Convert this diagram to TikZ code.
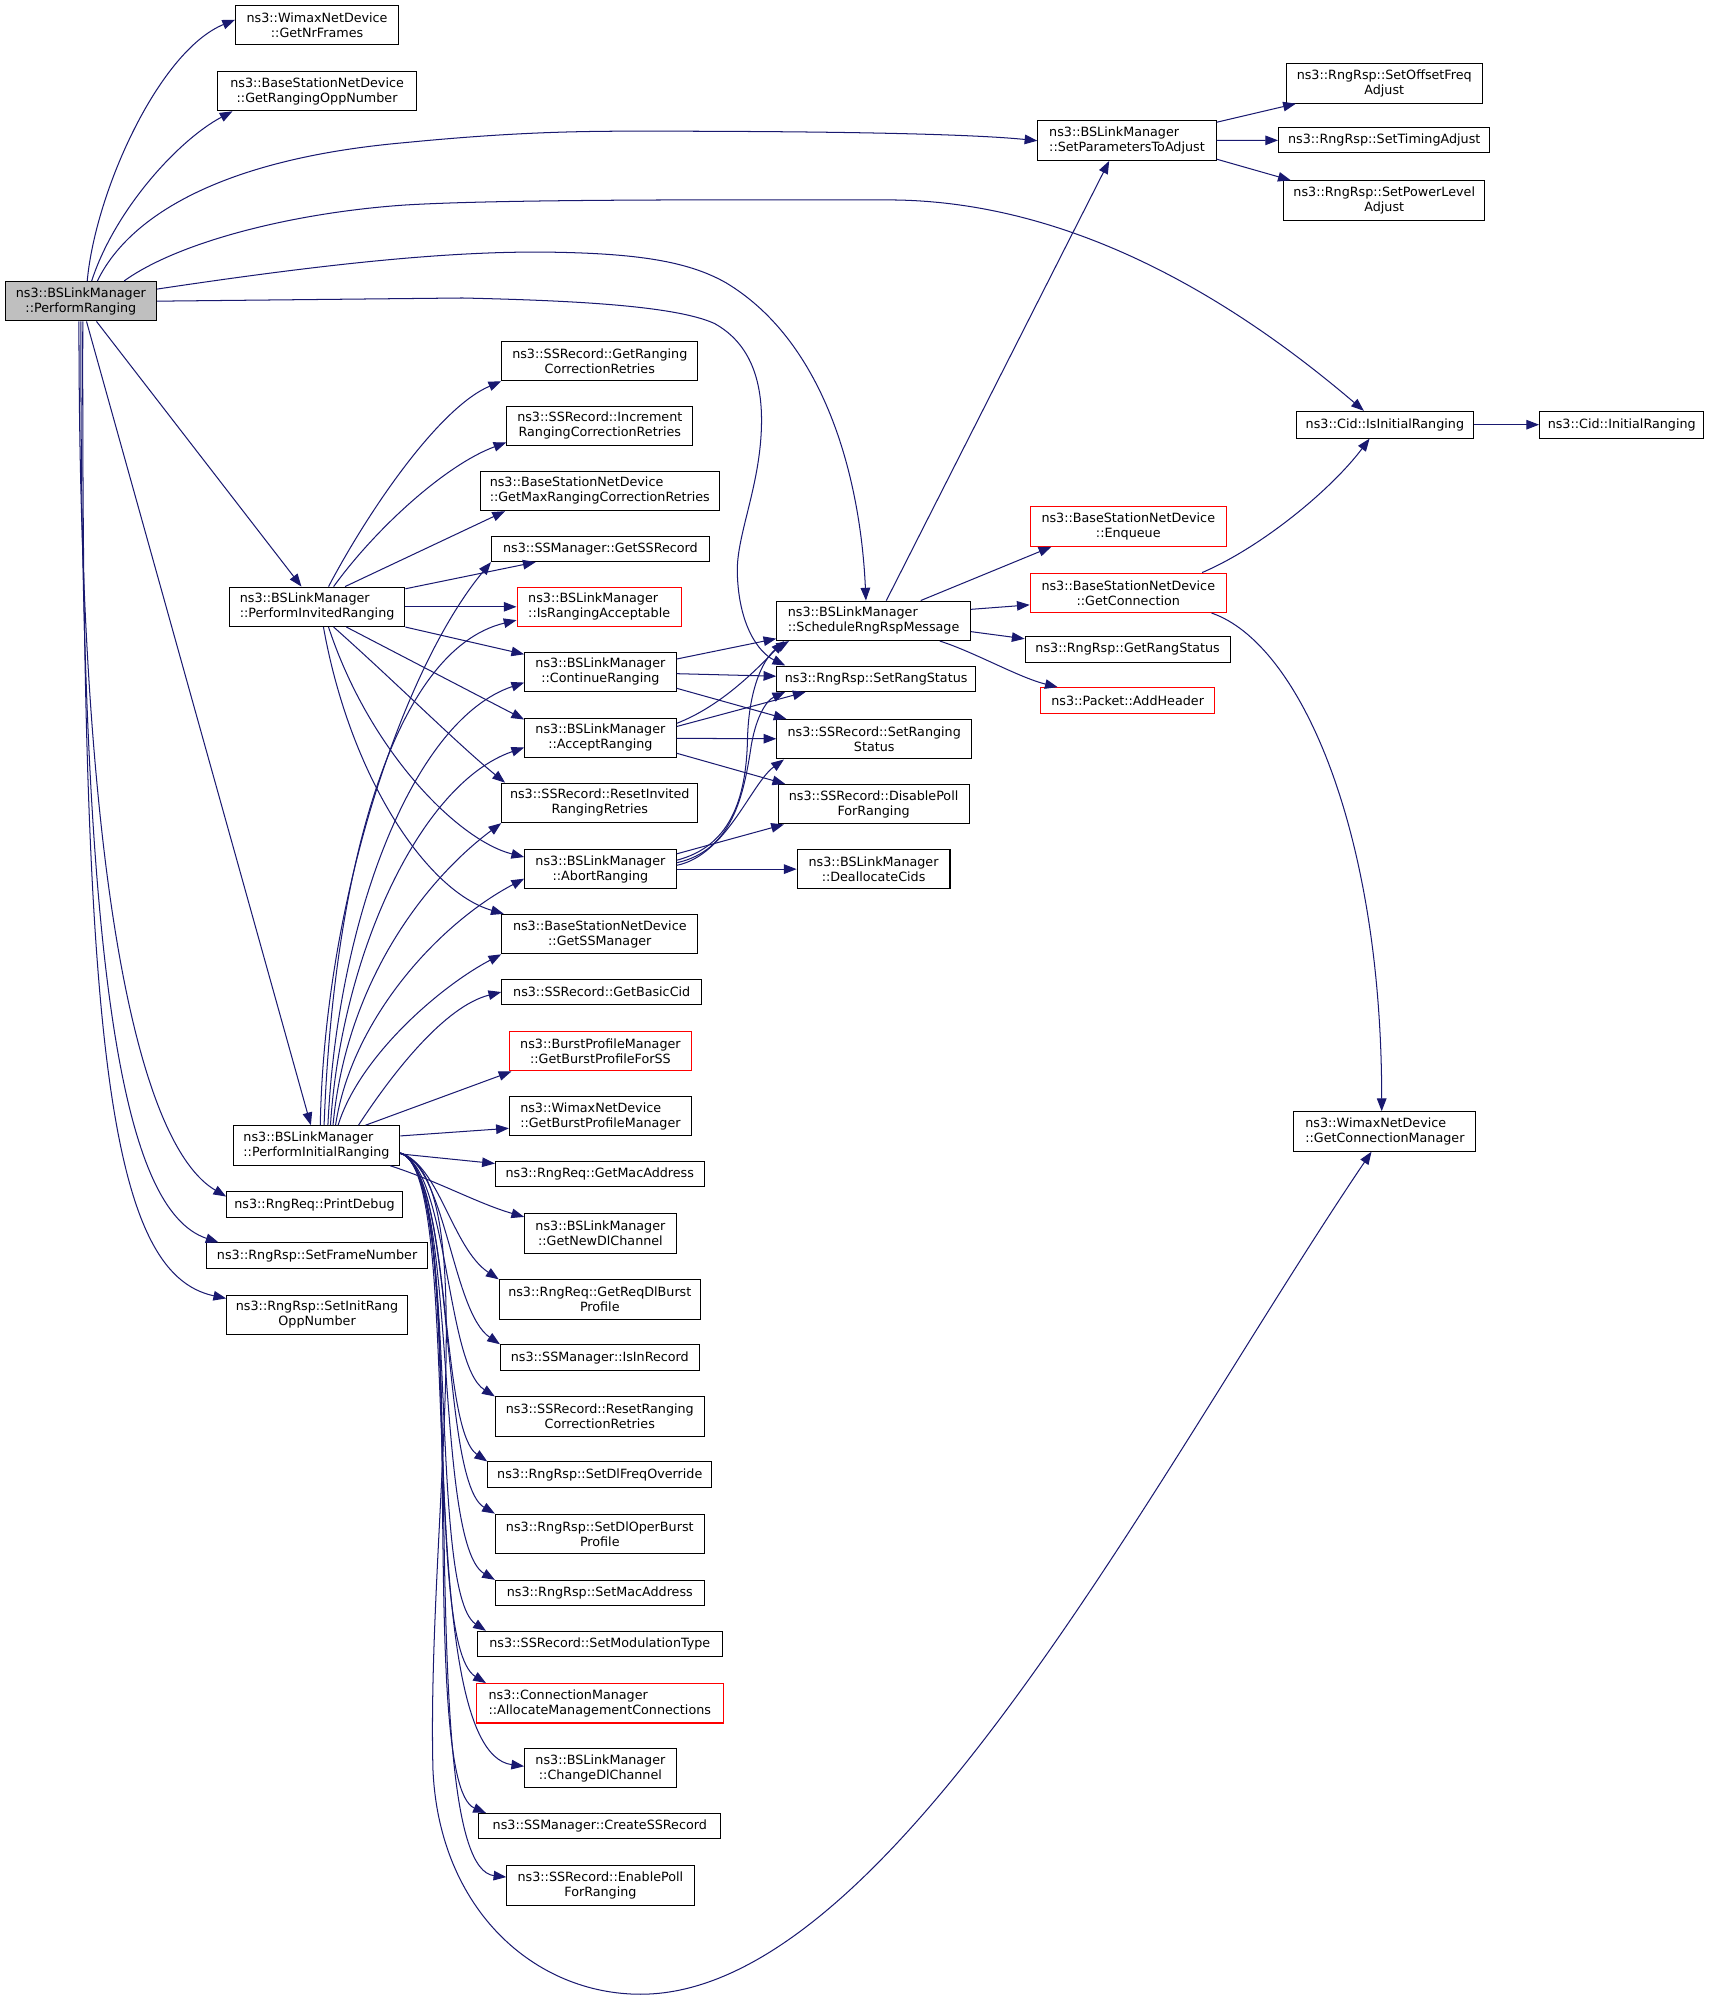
\documentclass[tikz,border=0pt]{standalone}
\usepackage{fontspec}
\setmainfont{DejaVu Sans}
\usetikzlibrary{arrows.meta}
\definecolor{edgecol}{HTML}{191970}
\definecolor{rootfill}{HTML}{BFBFBF}
\definecolor{redborder}{HTML}{FF0000}
\newsavebox\twolA
\newsavebox\twolB
\newlength\twolW
\newcommand\twol[2]{\sbox\twolA{#1}\sbox\twolB{#2}\setlength\twolW{\wd\twolA}\ifdim\wd\twolB>\twolW\setlength\twolW{\wd\twolB}\fi\vbox{\hbox to\twolW{\usebox\twolA\hfil}\hbox to\twolW{\hfil\usebox\twolB\hfil}}}
\newcommand\mybox[7]{\node[#1, minimum width={(#5-#3)*1pt}, minimum height={(#6-#4)*1pt}] (#2) at ({(#3+#5)/2},{-(#4+#6)/2}) {#7};}
\begin{document}
\begin{tikzpicture}[x=1pt,y=1pt,
  box/.style={draw=black, line width=0.8pt, fill=white, inner sep=0pt, font=\fontsize{10}{11.8}\selectfont},
  rootbox/.style={box, fill=rootfill},
  redbox/.style={box, draw=redborder},
  conn/.style={draw=edgecol, line width=0.8pt, -{Triangle[length=10pt,width=7.5pt]}}]
\fill[white] (0,0) rectangle (1342,-1567.4);
\useasboundingbox (0,0) rectangle (1342,-1567.4);
% nodes
\mybox{rootbox}{PR}{4}{221}{123}{252}{\twol{ns3::BSLinkManager}{::PerformRanging}}
\mybox{box}{GNF}{185}{4}{313}{35}{\twol{ns3::WimaxNetDevice}{::GetNrFrames}}
\mybox{box}{GROpp}{171}{56}{327}{87}{\twol{ns3::BaseStationNetDevice}{::GetRangingOppNumber}}
\mybox{box}{SPA}{815}{95}{955}{126}{\twol{ns3::BSLinkManager}{::SetParametersToAdjust}}
\mybox{box}{SOFA}{1010}{50}{1164}{81}{\twol{ns3::RngRsp::SetOffsetFreq}{Adjust}}
\mybox{box}{STA}{1004}{100}{1170}{120}{ns3::RngRsp::SetTimingAdjust}
\mybox{box}{SPLA}{1008}{142}{1166}{173}{\twol{ns3::RngRsp::SetPowerLevel}{Adjust}}
\mybox{box}{CIIR}{1018}{323}{1157}{344}{ns3::Cid::IsInitialRanging}
\mybox{box}{CIR}{1209}{323}{1338}{344}{ns3::Cid::InitialRanging}
\mybox{box}{GRCR}{394}{268}{548}{299}{\twol{ns3::SSRecord::GetRanging}{CorrectionRetries}}
\mybox{box}{IRCR}{398}{319}{544}{350}{\twol{ns3::SSRecord::Increment}{RangingCorrectionRetries}}
\mybox{box}{GMRCR}{377}{370}{565}{401}{\twol{ns3::BaseStationNetDevice}{::GetMaxRangingCorrectionRetries}}
\mybox{box}{GSSR}{386}{421}{557}{441}{ns3::SSManager::GetSSRecord}
\mybox{box}{PIR}{180}{461}{318}{492}{\twol{ns3::BSLinkManager}{::PerformInvitedRanging}}
\mybox{redbox}{IRA}{406}{461}{535}{492}{\twol{ns3::BSLinkManager}{::IsRangingAcceptable}}
\mybox{box}{SRRM}{610}{472}{762}{503}{\twol{ns3::BSLinkManager}{::ScheduleRngRspMessage}}
\mybox{redbox}{ENQ}{809}{398}{963}{429}{\twol{ns3::BaseStationNetDevice}{::Enqueue}}
\mybox{redbox}{GCON}{809}{450}{963}{481}{\twol{ns3::BaseStationNetDevice}{::GetConnection}}
\mybox{box}{GRS}{805}{500}{966}{520}{ns3::RngRsp::GetRangStatus}
\mybox{redbox}{ADDH}{817}{540}{954}{560}{ns3::Packet::AddHeader}
\mybox{box}{CR}{412}{512}{531}{543}{\twol{ns3::BSLinkManager}{::ContinueRanging}}
\mybox{box}{SRS}{610}{523}{766}{543}{ns3::RngRsp::SetRangStatus}
\mybox{box}{AR}{412}{564}{531}{595}{\twol{ns3::BSLinkManager}{::AcceptRanging}}
\mybox{box}{SSRS}{610}{565}{763}{596}{\twol{ns3::SSRecord::SetRanging}{Status}}
\mybox{box}{RIRR}{394}{615}{548}{646}{\twol{ns3::SSRecord::ResetInvited}{RangingRetries}}
\mybox{box}{DPFR}{611}{616}{761}{647}{\twol{ns3::SSRecord::DisablePoll}{ForRanging}}
\mybox{box}{ABR}{412}{667}{531}{698}{\twol{ns3::BSLinkManager}{::AbortRanging}}
\mybox{box}{DCID}{626}{667}{746}{698}{\twol{ns3::BSLinkManager}{::DeallocateCids}}
\mybox{box}{GSSM}{394}{718}{548}{749}{\twol{ns3::BaseStationNetDevice}{::GetSSManager}}
\mybox{box}{GBC}{394}{769}{551}{789}{ns3::SSRecord::GetBasicCid}
\mybox{redbox}{GBPSS}{400}{810}{543}{841}{\twol{ns3::BurstProfileManager}{::GetBurstProfileForSS}}
\mybox{box}{GBPM}{400}{861}{543}{892}{\twol{ns3::WimaxNetDevice}{::GetBurstProfileManager}}
\mybox{box}{PINR}{183}{884}{314}{915}{\twol{ns3::BSLinkManager}{::PerformInitialRanging}}
\mybox{box}{GMA}{389}{912}{553}{932}{ns3::RngReq::GetMacAddress}
\mybox{box}{GNDC}{412}{953}{531}{984}{\twol{ns3::BSLinkManager}{::GetNewDlChannel}}
\mybox{box}{GRDBP}{392}{1005}{550}{1036}{\twol{ns3::RngReq::GetReqDlBurst}{Profile}}
\mybox{box}{IIR}{393}{1056}{549}{1076}{ns3::SSManager::IsInRecord}
\mybox{box}{RRCR}{389}{1097}{553}{1128}{\twol{ns3::SSRecord::ResetRanging}{CorrectionRetries}}
\mybox{box}{SDFO}{383}{1148}{559}{1168}{ns3::RngRsp::SetDlFreqOverride}
\mybox{box}{SDOBP}{389}{1189}{553}{1220}{\twol{ns3::RngRsp::SetDlOperBurst}{Profile}}
\mybox{box}{SMA}{389}{1241}{553}{1261}{ns3::RngRsp::SetMacAddress}
\mybox{box}{SMT}{375}{1281}{567}{1301}{ns3::SSRecord::SetModulationType}
\mybox{redbox}{AMC}{374}{1322}{568}{1353}{\twol{ns3::ConnectionManager}{::AllocateManagementConnections}}
\mybox{box}{CDC}{412}{1373}{531}{1404}{\twol{ns3::BSLinkManager}{::ChangeDlChannel}}
\mybox{box}{CSSR}{376}{1424}{566}{1444}{ns3::SSManager::CreateSSRecord}
\mybox{box}{EPFR}{398}{1465}{545}{1496}{\twol{ns3::SSRecord::EnablePoll}{ForRanging}}
\mybox{box}{GCM}{1016}{873}{1159}{904}{\twol{ns3::WimaxNetDevice}{::GetConnectionManager}}
\mybox{box}{PD}{178}{936}{316}{956}{ns3::RngReq::PrintDebug}
\mybox{box}{SFN}{162}{976}{336}{996}{ns3::RngRsp::SetFrameNumber}
\mybox{box}{SIRO}{178}{1017}{320}{1048}{\twol{ns3::RngRsp::SetInitRang}{OppNumber}}
% edges from PerformRanging
\draw[conn] ([xshift=5]PR.north) .. controls (75,-150) and (125,-40) .. ([yshift=4]GNF.west);
\draw[conn] ([xshift=8.5]PR.north) .. controls (90,-165) and (140,-110) .. ([xshift=12]GROpp.south west);
\draw[conn] ([xshift=13]PR.north) .. controls (100,-172) and (170,-125) .. (318,-112) .. controls (400,-104) and (450,-103) .. (500,-103) .. controls (650,-103) and (760,-105) .. (SPA.west);
\draw[conn] ([xshift=34]PR.north) .. controls (140,-190) and (230,-167) .. (318,-161) .. controls (400,-156) and (600,-157) .. (697,-157) .. controls (850,-157) and (980,-245) .. ([xshift=-16.5]CIIR.north);
\draw[conn] ([yshift=9.5]PR.east) .. controls (250,-208) and (350,-197) .. (431,-198) .. controls (500,-199) and (540,-205) .. (570,-222) .. controls (650,-270) and (676,-380) .. ([xshift=-6]SRRM.north);
\draw[conn] (PR.east) -- (363,-234) .. controls (450,-236) and (530,-240) .. (561,-254) .. controls (590,-270) and (598,-300) .. (598,-330) .. controls (598,-380) and (578,-420) .. (579,-450) .. controls (580,-490) and (595,-512) .. ([xshift=7]SRS.north west);
\draw[conn] (PR) -- (PIR);
\draw[conn] (PR) -- (PINR);
\draw[conn] ([xshift=-1.5]PR.south) .. controls (62,-700) and (110,-900) .. ([yshift=-4]PD.north west);
\draw[conn] (PR.south) .. controls (63,-760) and (95,-950) .. ([xshift=10]SFN.north west);
\draw[conn] ([xshift=1.5]PR.south) .. controls (64,-820) and (85,-1000) .. ([yshift=-3]SIRO.north west);
% edges from PerformInvitedRanging
\draw[conn] ([xshift=9]PIR.north) .. controls (290,-400) and (345,-320) .. (GRCR.south west);
\draw[conn] ([xshift=13]PIR.north) .. controls (295,-415) and (350,-365) .. ([yshift=3]IRCR.south west);
\draw[conn] ([xshift=22]PIR.north) -- ([xshift=20]GMRCR.south west);
\draw[conn] (PIR) -- (GSSR);
\draw[conn] (PIR) -- (IRA);
\draw[conn] (PIR) -- (CR);
\draw[conn] ([xshift=23]PIR.south) -- ([yshift=14.5]AR.west);
\draw[conn] ([xshift=13]PIR.south) .. controls (310,-535) and (360,-585) .. ([xshift=3]RIRR.north west);
\draw[conn] ([xshift=9]PIR.south) .. controls (290,-590) and (360,-660) .. ([yshift=9.5]ABR.west);
\draw[conn] ([xshift=5]PIR.south) .. controls (275,-610) and (335,-700) .. ([xshift=2]GSSM.north west);
% edges from PerformInitialRanging (upwards)
\draw[conn] ([xshift=3]PINR.north) .. controls (255,-700) and (320,-520) .. (GSSR.south west);
\draw[conn] ([xshift=6]PINR.north) .. controls (262,-680) and (310,-510) .. ([yshift=-10.5]IRA.west);
\draw[conn] ([xshift=9]PINR.north) .. controls (265,-720) and (325,-565) .. ([yshift=-8.5]CR.west);
\draw[conn] ([xshift=11]PINR.north) .. controls (268,-750) and (330,-615) .. ([yshift=-7.5]AR.west);
\draw[conn] ([xshift=13]PINR.north) .. controls (272,-770) and (335,-690) .. (RIRR.south west);
\draw[conn] ([xshift=15]PINR.north) .. controls (276,-800) and (345,-725) .. ([yshift=-7.5]ABR.west);
\draw[conn] ([xshift=17]PINR.north) .. controls (282,-830) and (345,-775) .. (GSSM.south west);
\draw[conn] ([xshift=33]PINR.north) .. controls (310,-840) and (350,-790) .. (GBC.west);
\draw[conn] ([xshift=38.5]PINR.north) -- ([xshift=2]GBPSS.south west);
\draw[conn] ([yshift=7.5]PINR.east) -- ([yshift=-9.5]GBPM.west);
\draw[conn] (PINR) -- (GMA);
\draw[conn] ([xshift=-8]PINR.south east) .. controls (345,-928) and (375,-945) .. ([yshift=-3]GNDC.north west);
% edges from PerformInitialRanging (downwards bundle)
\draw[conn] ([yshift=-6]PINR.east) .. controls (345,-915) and (355,-980) .. (GRDBP.north west);
\draw[conn] ([yshift=-6]PINR.east) .. controls (350,-915) and (355,-1030) .. (IIR.north west);
\draw[conn] ([yshift=-6]PINR.east) .. controls (352,-918) and (350,-1072) .. (RRCR.north west);
\draw[conn] ([yshift=-6]PINR.east) .. controls (355,-920) and (345,-1122) .. (SDFO.north west);
\draw[conn] ([yshift=-6]PINR.east) .. controls (358,-920) and (345,-1163) .. (SDOBP.north west);
\draw[conn] ([yshift=-6]PINR.east) .. controls (360,-920) and (340,-1212) .. (SMA.north west);
\draw[conn] ([yshift=-6]PINR.east) .. controls (362,-920) and (335,-1250) .. ([xshift=7]SMT.north west);
\draw[conn] ([yshift=-6]PINR.east) .. controls (365,-920) and (330,-1290) .. ([xshift=8]AMC.north west);
\draw[conn] ([yshift=-6]PINR.east) .. controls (368,-920) and (320,-1375) .. ([yshift=1.5]CDC.west);
\draw[conn] ([yshift=-6]PINR.east) .. controls (372,-920) and (325,-1400) .. ([xshift=6]CSSR.north west);
\draw[conn] ([yshift=-6]PINR.east) .. controls (375,-920) and (320,-1465) .. ([yshift=6.5]EPFR.west);
\draw[conn] ([yshift=-6]PINR.east) .. controls (380,-925) and (335,-1200) .. (340,-1390) .. controls (345,-1500) and (420,-1566) .. (503,-1566) .. controls (700,-1566) and (909,-1153) .. ([xshift=-10.5]GCM.south);
% edges from ContinueRanging
\draw[conn] ([yshift=10]CR.east) -- ([yshift=-14]SRRM.west);
\draw[conn] (CR) -- (SRS);
\draw[conn] ([yshift=-13]CR.east) -- ([xshift=8]SSRS.north west);
% edges from AcceptRanging
\draw[conn] ([yshift=11.5]AR.east) .. controls (565,-555) and (592,-528) .. ([xshift=6]SRRM.south west);
\draw[conn] ([yshift=9]AR.east) -- ([xshift=23]SRS.south west);
\draw[conn] (AR) -- (SSRS);
\draw[conn] ([yshift=-12]AR.east) -- ([xshift=6]DPFR.north west);
% edges from AbortRanging
\draw[conn] ([yshift=7]ABR.east) .. controls (572,-665) and (586,-630) .. (587,-580) .. controls (588,-540) and (600,-515) .. ([xshift=10]SRRM.south west);
\draw[conn] ([yshift=5]ABR.east) .. controls (575,-668) and (584,-625) .. (590,-585) .. controls (594,-562) and (602,-550) .. ([xshift=7]SRS.south west);
\draw[conn] ([yshift=3]ABR.east) .. controls (570,-672) and (590,-615) .. ([xshift=6]SSRS.south west);
\draw[conn] ([yshift=12]ABR.east) -- ([xshift=5]DPFR.south west);
\draw[conn] (ABR) -- (DCID);
% edges from ScheduleRngRspMessage
\draw[conn] ([xshift=10]SRRM.north) -- ([xshift=-14]SPA.south);
\draw[conn] ([xshift=37]SRRM.north) -- ([xshift=17]ENQ.south west);
\draw[conn] ([yshift=9]SRRM.east) -- ([yshift=-9.5]GCON.west);
\draw[conn] ([yshift=-8.5]SRRM.east) -- ([yshift=-2]GRS.north west);
\draw[conn] ([xshift=52]SRRM.south) .. controls (765,-512) and (800,-532) .. ([xshift=14]ADDH.north west);
% edges from SetParametersToAdjust
\draw[conn] ([yshift=14.5]SPA.east) -- ([xshift=8]SOFA.south west);
\draw[conn] (SPA) -- (STA);
\draw[conn] ([yshift=-14.5]SPA.east) -- ([xshift=6]SPLA.north west);
% edges from GetConnection and IsInitialRanging
\draw[conn] ([xshift=58]GCON.north) .. controls (990,-430) and (1045,-385) .. ([xshift=-12]CIIR.south);
\draw[conn] ([xshift=-12]GCON.south east) .. controls (1020,-505) and (1085,-650) .. ([xshift=-2.5]GCM.north);
\draw[conn] (CIIR) -- (CIR);
\end{tikzpicture}
\end{document}
